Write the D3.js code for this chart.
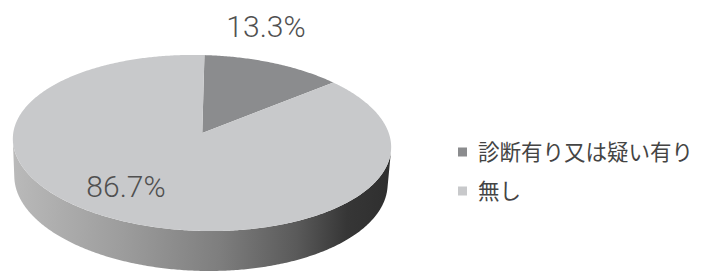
<!DOCTYPE html>
<html>
<head>
<meta charset="utf-8">
<script src="https://cdn.jsdelivr.net/npm/d3@7"></script>
<style>
  body { margin: 0; background: #fff; }
</style>
</head>
<body>
<div id="chart"></div>
<script>
// Data
const categories = ["診断有り又は疑い有り", "無し"];
const values = [13.3, 86.7];
const valueLabels = ["13.3%", "86.7%"];
const colors = ["#8b8c8e", "#c8c9cb"];

const width = 703, height = 271;

// 3D pie projection parameters
const cx = 202, cy = 133;
const R = 188, depth = 42;
const elev = 27.5 * Math.PI / 180;
const dist = 1469;

function project(a, Y) {
    const X = R * Math.sin(a), Z = R * Math.cos(a);
    const yv = Y * Math.cos(elev) + Z * Math.sin(elev);
    const zv = -Y * Math.sin(elev) + Z * Math.cos(elev);
    const s = dist / (dist + zv);
    return [cx + X * s, cy - yv * s];
}
function arcPoints(a0, a1, Y) {
    const n = Math.max(2, Math.ceil(Math.abs(a1 - a0) / 0.01));
    return d3.range(n + 1).map(i => project(a0 + (a1 - a0) * i / n, Y));
}

const svg = d3.select("#chart")
    .append("svg")
    .attr("width", width)
    .attr("height", height);

const defs = svg.append("defs");
const grad = defs.append("linearGradient")
    .attr("id", "side")
    .attr("gradientUnits", "userSpaceOnUse")
    .attr("x1", 12).attr("x2", 395).attr("y1", 0).attr("y2", 0);
[[0, "#bababa"], [0.3, "#9c9c9c"], [0.55, "#7e7e7e"], [0.75, "#5a5a5a"], [0.88, "#363636"], [1, "#2e2e2e"]]
    .forEach(([o, c]) => grad.append("stop").attr("offset", o).attr("stop-color", c));

// slight tilt of the whole pie, as in the reference
const g = svg.append("g")
    .attr("transform", `rotate(1.6,${cx},${cy + 10})`);

const pie = d3.pie().sort(null).startAngle(0).endAngle(2 * Math.PI);
const arcs = pie(values);

const line = d3.line();

// Visible side of the cylinder
const cosLim = -R / (dist * Math.cos(elev));
const aVis0 = Math.acos(cosLim), aVis1 = 2 * Math.PI - aVis0;
arcs.forEach((d, i) => {
    const a0 = Math.max(d.startAngle, aVis0), a1 = Math.min(d.endAngle, aVis1);
    if (a1 <= a0) return;
    const top = arcPoints(a0, a1, 0);
    const bottom = arcPoints(a1, a0, -depth);
    g.append("path")
        .attr("d", line(top.concat(bottom)) + "Z")
        .attr("fill", "url(#side)");
});

// Top faces
arcs.forEach((d, i) => {
    const pts = [[cx, cy]].concat(arcPoints(d.startAngle, d.endAngle, 0));
    g.append("path")
        .attr("d", line(pts) + "Z")
        .attr("fill", colors[i]);
});

// Value labels
const labelPos = [[266, 37], [126, 197]];
svg.selectAll("text.val")
    .data(valueLabels)
    .enter()
    .append("text")
    .attr("class", "val")
    .attr("x", (d, i) => labelPos[i][0])
    .attr("y", (d, i) => labelPos[i][1])
    .attr("text-anchor", "middle")
    .attr("font-family", "Roboto, 'Noto Sans', sans-serif")
    .attr("font-weight", 300)
    .attr("font-size", 30)
    .attr("fill", "#505050")
    .text(d => d);

// Legend
const legend = svg.selectAll("g.legend")
    .data(categories)
    .enter()
    .append("g")
    .attr("class", "legend")
    .attr("transform", (d, i) => `translate(458,${152 + i * 39})`);

legend.append("rect")
    .attr("x", 0).attr("y", -4.5)
    .attr("width", 9).attr("height", 9)
    .attr("fill", (d, i) => colors[i]);

legend.append("text")
    .attr("x", 20)
    .attr("y", 0)
    .attr("dy", "0.36em")
    .attr("font-family", "'Noto Sans CJK JP', sans-serif")
    .attr("font-size", 21.5)
    .attr("fill", "#444")
    .text(d => d);
</script>
</body>
</html>
